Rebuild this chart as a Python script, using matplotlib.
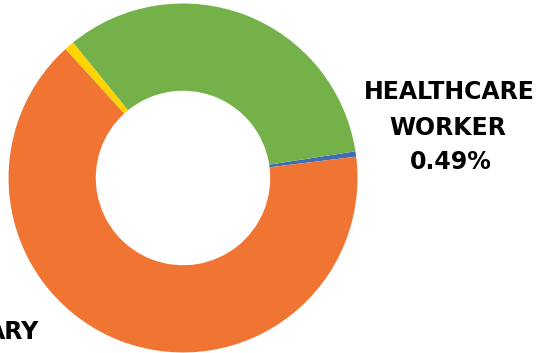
import matplotlib
matplotlib.use('Agg')
import matplotlib.pyplot as plt

# slices, clockwise from the blue one
categories = ['HEALTHCARE WORKER', 'SECONDARY', 'OTHER', 'PRIMARY']
shares = [0.49, 65.2, 0.91, 33.4]
colors = ['#3F6DB5', '#F07533', '#FFD400', '#74B249']

fig = plt.figure(figsize=(5.37, 3.53), dpi=100)
ax = fig.add_axes([0, 0, 1, 1])

ax.pie(shares, colors=colors, startangle=8.8, counterclock=False,
       radius=1, wedgeprops=dict(width=0.5, linewidth=0))

# crop like the original picture
ax.set_aspect('auto')
ax.set_xlim(-1.049, 2.029)
ax.set_ylim(-1.003, 1.020)
ax.axis('off')

font = dict(fontsize=17, fontweight='bold', family='DejaVu Sans', color='black')
ax.text(1.527, 0.495, 'HEALTHCARE', ha='center', va='center', **font)
ax.text(1.516, 0.289, 'WORKER', ha='center', va='center', **font)
ax.text(1.536, 0.089, f'{shares[0]:.2f}%', ha='center', va='center', **font)
ax.text(-0.823, -0.880, 'ARY', ha='right', va='center', **font)

plt.savefig('out.png', dpi=100)
